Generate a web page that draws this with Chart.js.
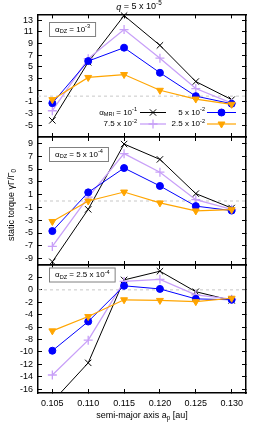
<!DOCTYPE html>
<html>
<head>
<meta charset="utf-8">
<script src="https://cdn.jsdelivr.net/npm/chart.js@4/dist/chart.umd.min.js"></script>
<style>
  html, body { margin: 0; padding: 0; background: #fff; }
  #wrap { position: relative; width: 258px; height: 442px; }
  canvas { position: absolute; left: 0; top: 0; }
</style>
</head>
<body>
<div id="wrap">
  <canvas id="p1" width="258" height="442"></canvas>
  <canvas id="p2" width="258" height="442"></canvas>
  <canvas id="p3" width="258" height="442"></canvas>
</div>
<script>
// semi-major axis of the planet [au]
var semiMajor = [0.105, 0.110, 0.115, 0.120, 0.125, 0.130];
var xTicks = [0.105, 0.110, 0.115, 0.120, 0.125, 0.130];

// alpha_DZ = 1e-3
var dz1_mri100 = [-4.15, 5.8, 13.8, 8.7, 2.5, -0.6];
var dz1_mri075 = [-2.5, 6.4, 11.4, 6.5, 1.3, -1.2];
var dz1_mri050 = [-1.2, 6.0, 8.3, 4.0, 0.0, -1.3];
var dz1_mri025 = [-0.6, 3.2, 3.7, 1.0, -0.5, -1.4];
var dz1_ticks = [-5, -3, -1, 1, 3, 5, 7, 9, 11, 13];

// alpha_DZ = 5e-4
var dz2_mri100 = [-9.5, -1.3, 8.9, 6.5, 1.15, -1.1];
var dz2_mri075 = [-7.1, 0.6, 7.4, 4.5, 0.2, -1.3];
var dz2_mri050 = [-4.7, 1.35, 5.15, 2.35, -0.8, -1.5];
var dz2_mri025 = [-3.2, 0.0, 1.4, -0.3, -1.55, -1.35];
var dz2_ticks = [-9, -7, -5, -3, -1, 1, 3, 5, 7, 9];

// alpha_DZ = 2.5e-4
var dz3_mri100 = [-18, -11.75, 1.6, 3.0, -0.3, -1.7];
var dz3_mri075 = [-13.7, -8.1, 1.35, 1.7, -0.8, -1.5];
var dz3_mri050 = [-9.8, -5.1, 0.65, 0.15, -1.45, -1.6];
var dz3_mri025 = [-6.6, -4.3, -1.6, -1.7, -1.9, -1.35];
var dz3_ticks = [-16, -14, -12, -10, -8, -6, -4, -2, 0, 2];

var FONT = "'Liberation Sans', Arial, sans-serif";
var X_MIN = 0.103, X_MAX = 0.132;

var colors = {
    black: '#000000',
    purple: '#c8a0f8',
    blue: '#0000ff',
    orange: '#ffa500',
    zero: '#c8c8c8'
};

Chart.defaults.font.family = FONT;
Chart.defaults.font.size = 9;
Chart.defaults.color = '#000';

function fontFor(p, size) {
    var s = (p[1] === 'sub' || p[1] === 'sup') ? size * 0.7 : size;
    return (p[1] === 'it' ? 'italic ' : '') + s + 'px ' + FONT;
}

function richWidth(ctx, parts, size) {
    var w = 0;
    parts.forEach(function (p) { ctx.font = fontFor(p, size); w += ctx.measureText(p[0]).width; });
    return w;
}

function drawRich(ctx, parts, x, y, size, align) {
    var w = richWidth(ctx, parts, size);
    var cx = align === 'right' ? x - w : (align === 'center' ? x - w / 2 : x);
    ctx.textAlign = 'left';
    ctx.textBaseline = 'middle';
    parts.forEach(function (p) {
        ctx.font = fontFor(p, size);
        var dy = p[1] === 'sup' ? -size * 0.38 : (p[1] === 'sub' ? size * 0.3 : 0);
        ctx.fillText(p[0], cx, y + dy);
        cx += ctx.measureText(p[0]).width;
    });
}

function toPoints(vals) {
    return semiMajor.map(function (x, i) { return {x: x, y: vals[i]}; });
}

// x axis with labels needs a real height, labels are clipped to the scale box
function axis(pos, min, max, ticks, showLabels, fmt) {
    return {
        type: 'linear',
        position: pos,
        min: min,
        max: max,
        afterBuildTicks: function (s) {
            s.ticks = ticks.map(function (v) { return {value: v}; });
        },
        afterFit: function (s) {
            if (pos === 'left') s.width = 38;
            else if (pos === 'right') s.width = 0;
            else s.height = showLabels ? 20 : 0;
        },
        grid: {drawOnChartArea: false, drawTicks: true, tickLength: -4, color: '#000', lineWidth: 1},
        border: {display: true, color: '#000', width: 1.5},
        ticks: {display: showLabels, autoSkip: false, maxRotation: 0, padding: 9, font: {size: 9}, color: '#000', callback: fmt}
    };
}

var extrasPlugin = {
    id: 'extras',
    afterDraw: function (chart) {
        var ctx = chart.ctx, o = chart.options.plugins.extras;
        ctx.save();
        ctx.fillStyle = '#000';
        if (o.box) {
            var w = richWidth(ctx, o.box.parts, 8) + 11;
            ctx.fillStyle = '#fff';
            ctx.fillRect(o.box.x, o.box.y, w, 14);
            ctx.strokeStyle = '#808080';
            ctx.lineWidth = 1;
            ctx.strokeRect(o.box.x + 0.5, o.box.y + 0.5, w, 14);
            ctx.fillStyle = '#000';
            drawRich(ctx, o.box.parts, o.box.x + 6, o.box.y + 7.5, 8, 'left');
        }
        (o.legend || []).forEach(function (it) {
            var ds = chart.data.datasets[it.ds];
            ctx.fillStyle = '#000';
            drawRich(ctx, it.parts, it.textRight, it.y, 8, 'right');
            ctx.strokeStyle = ds.borderColor;
            ctx.lineWidth = ds.borderWidth;
            ctx.beginPath();
            ctx.moveTo(it.x0, it.y);
            ctx.lineTo(it.x1, it.y);
            ctx.stroke();
            ctx.fillStyle = ds.pointBackgroundColor;
            ctx.lineWidth = ds.pointBorderWidth;
            if (Chart.helpers && Chart.helpers.drawPoint) {
                Chart.helpers.drawPoint(ctx, {
                    pointStyle: ds.pointStyle, radius: ds.pointRadius,
                    rotation: ds.pointRotation || 0, borderWidth: ds.pointBorderWidth
                }, (it.x0 + it.x1) / 2, it.y);
            }
        });
        (o.texts || []).forEach(function (t) {
            ctx.fillStyle = '#000';
            if (t.rotate) {
                ctx.save();
                ctx.translate(t.x, t.y);
                ctx.rotate(-Math.PI / 2);
                drawRich(ctx, t.parts, 0, 0, 9, 'center');
                ctx.restore();
            } else {
                drawRich(ctx, t.parts, t.x, t.y, 9, 'center');
            }
        });
        ctx.restore();
    }
};

function series(vals, color, style, r, order, extra) {
    var ds = {
        data: toPoints(vals),
        borderColor: color,
        backgroundColor: color,
        borderWidth: 1,
        pointStyle: style,
        pointRadius: r,
        pointHoverRadius: r,
        pointBorderColor: color,
        pointBackgroundColor: color,
        pointBorderWidth: 1,
        order: order
    };
    return Object.assign(ds, extra || {});
}

function createConfig(p) {
    return {
        type: 'line',
        data: {
            datasets: [
                series(p.s100, colors.black, 'crossRot', 4.5, 3, {clip: p.clip}),
                series(p.s075, colors.purple, 'cross', 4.5, 2, {clip: p.clip, borderWidth: 1.3, pointBorderWidth: 1.3}),
                series(p.s050, colors.blue, 'circle', 3.5, 1, {clip: p.clip}),
                series(p.s025, colors.orange, 'triangle', 4, 0, {clip: p.clip, pointRotation: 180, borderWidth: 1.2}),
                {
                    data: [{x: X_MIN, y: 0}, {x: X_MAX, y: 0}],
                    borderColor: colors.zero, borderWidth: 1, borderDash: [3, 3],
                    pointRadius: 0, order: 9
                }
            ]
        },
        options: {
            responsive: false,
            animation: false,
            devicePixelRatio: 1,
            layout: {padding: {left: 0, right: 12, top: p.top, bottom: 442 - p.bottom - (p.xLabels ? 20 : 0)}},
            scales: {
                x: axis('bottom', X_MIN, X_MAX, xTicks, p.xLabels, function (v) { return v.toFixed(3); }),
                x2: axis('top', X_MIN, X_MAX, xTicks, false),
                y: axis('left', p.min, p.max, p.ticks, true, function (v) { return String(v); }),
                y2: axis('right', p.min, p.max, p.ticks, false)
            },
            plugins: {
                legend: {display: false},
                tooltip: {enabled: false},
                extras: {box: p.box, legend: p.legend, texts: p.texts}
            }
        },
        plugins: [extrasPlugin]
    };
}

var legendItems = [
    {ds: 0, parts: [['\u03b1', ''], ['MRI', 'sub'], [' = 10', ''], ['-1', 'sup']], textRight: 137, x0: 140, x1: 166, y: 112.5},
    {ds: 2, parts: [['5 x 10', ''], ['-2', 'sup']], textRight: 205, x0: 207, x1: 236, y: 112.5},
    {ds: 1, parts: [['7.5 x 10', ''], ['-2', 'sup']], textRight: 137, x0: 140, x1: 166, y: 124},
    {ds: 3, parts: [['2.5 x 10', ''], ['-2', 'sup']], textRight: 205, x0: 207, x1: 236, y: 124}
];

window.panels = {
    "dz1": new Chart(document.getElementById("p1").getContext("2d"), createConfig({
        s100: dz1_mri100, s075: dz1_mri075, s050: dz1_mri050, s025: dz1_mri025,
        min: -7, max: 14, ticks: dz1_ticks, top: 13, bottom: 137, xLabels: false, clip: false,
        box: {x: 49, y: 22, parts: [['\u03b1', ''], ['DZ', 'sub'], [' = 10', ''], ['-3', 'sup']]},
        legend: legendItems,
        texts: [{x: 139, y: 7, parts: [['q', 'it'], [' = 5 x 10', ''], ['-5', 'sup']]}]
    })),
    "dz2": new Chart(document.getElementById("p2").getContext("2d"), createConfig({
        s100: dz2_mri100, s075: dz2_mri075, s050: dz2_mri050, s025: dz2_mri025,
        min: -10, max: 10, ticks: dz2_ticks, top: 137, bottom: 265, xLabels: false, clip: false,
        box: {x: 49, y: 147, parts: [['\u03b1', ''], ['DZ', 'sub'], [' = 5 x 10', ''], ['-4', 'sup']]},
        texts: [{x: 12, y: 205, rotate: true, parts: [['static torque \u03b3\u0393/\u0393', ''], ['0', 'sub']]}]
    })),
    "dz3": new Chart(document.getElementById("p3").getContext("2d"), createConfig({
        s100: dz3_mri100, s075: dz3_mri075, s050: dz3_mri050, s025: dz3_mri025,
        min: -16.6, max: 4, ticks: dz3_ticks, top: 265, bottom: 393, xLabels: true,
        clip: {left: false, top: false, right: false, bottom: 0},
        box: {x: 49, y: 267.5, parts: [['\u03b1', ''], ['DZ', 'sub'], [' = 2.5 x 10', ''], ['-4', 'sup']]},
        texts: [{x: 142, y: 415.5, parts: [['semi-major axis a', ''], ['p', 'sub'], [' [au]', '']]}]
    }))
};
</script>
</body>
</html>
